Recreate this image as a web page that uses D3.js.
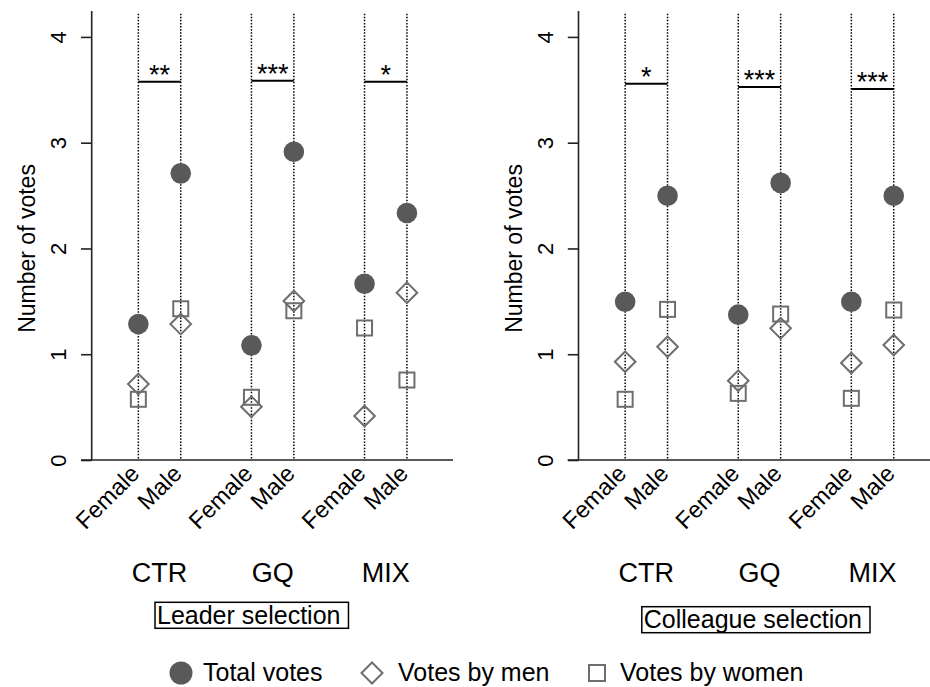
<!DOCTYPE html>
<html>
<head>
<meta charset="utf-8">
<script src="https://cdn.jsdelivr.net/npm/d3@7"></script>
<style>
  html, body { margin: 0; padding: 0; background: #fff; }
  svg { display: block; font-family: "Liberation Sans", Arial, sans-serif; }
</style>
</head>
<body>
<svg id="chart" width="930" height="687"></svg>
<script>
// ---------- data ----------
const groups = ["CTR", "GQ", "MIX"];
const genders = ["Female", "Male"];
const yTicks = [0, 1, 2, 3, 4];

// order: CTR-Female, CTR-Male, GQ-Female, GQ-Male, MIX-Female, MIX-Male
const leaderTotal = [1.285, 2.71, 1.084, 2.914, 1.667, 2.335];
const leaderMen   = [0.718, 1.285, 0.504, 1.503, 0.416, 1.582];
const leaderWomen = [0.574, 1.43, 0.593, 1.411, 1.248, 0.756];
const leaderStars = ["**", "***", "*"];
const leaderBarY  = [3.576, 3.585, 3.576];

const colleagueTotal = [1.496, 2.498, 1.374, 2.62, 1.496, 2.498];
const colleagueMen   = [0.929, 1.071, 0.75, 1.245, 0.917, 1.087];
const colleagueWomen = [0.574, 1.424, 0.63, 1.38, 0.583, 1.418];
const colleagueStars = ["*", "***", "***"];
const colleagueBarY  = [3.557, 3.526, 3.507];

const legendLabels = ["Total votes", "Votes by men", "Votes by women"];
const panelTitles = ["Leader selection", "Colleague selection"];
const yTitle = "Number of votes";

// ---------- layout ----------
const svg = d3.select("#chart");
const fillGray = "#595959";
const strokeGray = "#6e6e6e";
const axisColor = "#222";
const GAP = 2.667; // spacing between groups in category units

const panels = [
  { axisX: 91.7, total: leaderTotal, men: leaderMen, women: leaderWomen,
    stars: leaderStars, barY: leaderBarY, title: panelTitles[0], boxTop: 602.3, baseline: 624 },
  { axisX: 578.5, total: colleagueTotal, men: colleagueMen, women: colleagueWomen,
    stars: colleagueStars, barY: colleagueBarY, title: panelTitles[1], boxTop: 606.7, baseline: 628 }
];

const cells = [];
groups.forEach((g, gi) => genders.forEach((s, si) => cells.push({ g, gi, s, si, pos: gi * GAP + si })));

function diamondPath(cx, cy, r) {
  return `M${cx},${cy - r}L${cx + r},${cy}L${cx},${cy + r}L${cx - r},${cy}Z`;
}

panels.forEach(p => {
  const x = d3.scaleLinear().domain([-1.1, 7.42]).range([p.axisX, p.axisX + 361.3]);
  const y = d3.scaleLinear().domain([0, 4.245]).range([460, 11]);
  const g = svg.append("g");

  // dotted verticals
  g.selectAll("line.dot").data(cells).join("line")
    .attr("x1", d => x(d.pos)).attr("x2", d => x(d.pos))
    .attr("y1", y(4.22)).attr("y2", y(0))
    .attr("stroke", "#000").attr("stroke-width", 1.5)
    .attr("stroke-dasharray", "1.5 1.6");

  // y axis
  const yAxis = d3.axisLeft(y).tickValues(yTicks).tickSize(10.7).tickPadding(0).tickFormat(d3.format("d"));
  const ya = g.append("g").attr("transform", `translate(${p.axisX},0)`).call(yAxis);
  ya.attr("font-size", null).attr("font-family", null);
  ya.select(".domain").attr("d", `M0,${y(4.245)}V${y(0)}`).attr("stroke", axisColor).attr("stroke-width", 1.6);
  ya.selectAll(".tick line").attr("stroke", axisColor).attr("stroke-width", 1.6);
  ya.selectAll(".tick text")
    .attr("x", 0).attr("y", 0).attr("dy", null)
    .attr("transform", "translate(-26,0) rotate(-90)")
    .attr("text-anchor", "middle")
    .attr("fill", "#000")
    .style("font-size", "22px");

  // x axis line
  g.append("line")
    .attr("x1", p.axisX - 10.7).attr("x2", Math.min(p.axisX + 361.3, 930))
    .attr("y1", y(0)).attr("y2", y(0))
    .attr("stroke", axisColor).attr("stroke-width", 1.6);

  // y title
  g.append("text")
    .attr("transform", `translate(${p.axisX - 56.7},${(y(0) + y(4)) / 2}) rotate(-90)`)
    .attr("text-anchor", "middle")
    .style("font-size", "23px")
    .text(yTitle);

  // x labels (rotated)
  g.selectAll("text.xl").data(cells).join("text")
    .attr("transform", d => `translate(${x(d.pos) + 2.5},475) rotate(-45)`)
    .attr("text-anchor", "end")
    .style("font-size", "23.5px")
    .text(d => d.s);

  // group labels
  g.selectAll("text.gl").data(groups).join("text")
    .attr("x", (d, i) => (x(i * GAP) + x(i * GAP + 1)) / 2)
    .attr("y", 581.7)
    .attr("text-anchor", "middle")
    .style("font-size", "27px")
    .text(d => d);

  // significance bars + stars
  g.selectAll("line.sig").data(groups).join("line")
    .attr("x1", (d, i) => x(i * GAP)).attr("x2", (d, i) => x(i * GAP + 1))
    .attr("y1", (d, i) => y(p.barY[i])).attr("y2", (d, i) => y(p.barY[i]))
    .attr("stroke", "#000").attr("stroke-width", 2);
  g.selectAll("text.star").data(groups).join("text")
    .attr("x", (d, i) => (x(i * GAP) + x(i * GAP + 1)) / 2)
    .attr("y", (d, i) => y(p.barY[i]) + 2)
    .attr("text-anchor", "middle")
    .style("font-size", "27px")
    .text((d, i) => p.stars[i]);

  // markers: squares (women), diamonds (men), circles (total)
  g.selectAll("rect.w").data(cells).join("rect")
    .attr("x", (d, i) => x(d.pos) - 7.5).attr("y", (d, i) => y(p.women[i]) - 7.5)
    .attr("width", 15).attr("height", 15)
    .attr("fill", "none").attr("stroke", strokeGray).attr("stroke-width", 2);
  g.selectAll("path.m").data(cells).join("path")
    .attr("d", (d, i) => diamondPath(x(d.pos), y(p.men[i]), 10.3))
    .attr("fill", "none").attr("stroke", strokeGray).attr("stroke-width", 2);
  g.selectAll("circle.t").data(cells).join("circle")
    .attr("cx", d => x(d.pos)).attr("cy", (d, i) => y(p.total[i]))
    .attr("r", 10.3).attr("fill", fillGray);

  // boxed panel title
  const t = g.append("text")
    .attr("x", p.axisX + 65.3).attr("y", p.baseline)
    .style("font-size", "25px")
    .text(p.title);
  const bb = t.node().getBBox();
  g.append("rect")
    .attr("x", p.axisX + 63.3).attr("y", p.boxTop)
    .attr("width", bb.width + 10).attr("height", 26)
    .attr("fill", "none").attr("stroke", "#000").attr("stroke-width", 1.5);
});

// ---------- legend ----------
const lg = svg.append("g");
const legY = 673, legBase = 681;
lg.append("circle").attr("cx", 181).attr("cy", legY).attr("r", 11.5).attr("fill", fillGray);
lg.append("path").attr("d", diamondPath(372, legY, 10.5)).attr("fill", "none").attr("stroke", strokeGray).attr("stroke-width", 2);
lg.append("rect").attr("x", 589).attr("y", legY - 8).attr("width", 16).attr("height", 16)
  .attr("fill", "none").attr("stroke", strokeGray).attr("stroke-width", 2);
const legX = [203, 398, 620];
lg.selectAll("text").data(legendLabels).join("text")
  .attr("x", (d, i) => legX[i]).attr("y", legBase)
  .style("font-size", "25px")
  .text(d => d);
</script>
</body>
</html>
